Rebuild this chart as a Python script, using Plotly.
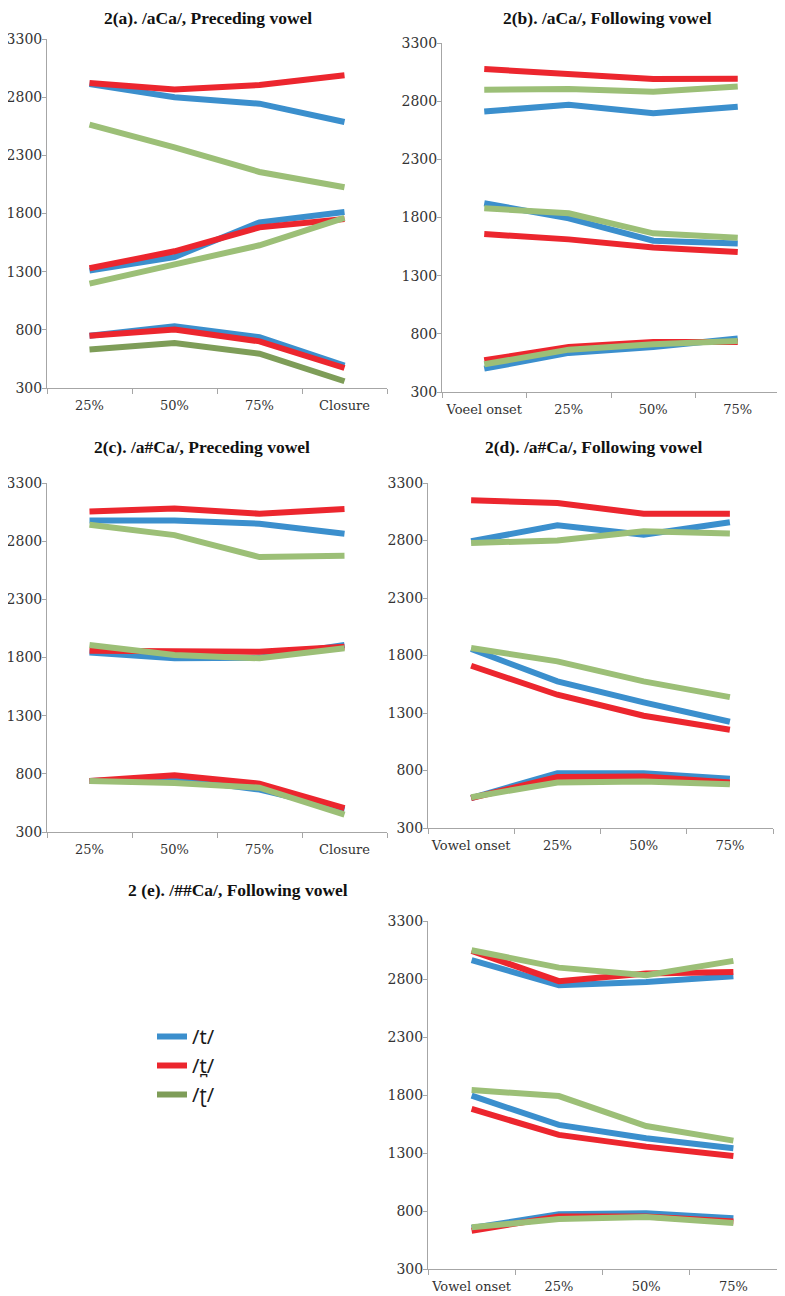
import plotly.graph_objects as go

W, H = 785, 1296
OFF = 8  # page body margin added by the browser

# ---------------- data ----------------
CAT_PRE = ["25%", "50%", "75%", "Closure"]
CAT_B = ["Voeel onset", "25%", "50%", "75%"]
CAT_FOL = ["Vowel onset", "25%", "50%", "75%"]

CONSONANTS = ["/t/", "/t\u032a/", "/\u0288/"]

# each list: [F1, F2, F3] per consonant
A_T = [[750, 830, 736, 492], [1309, 1426, 1724, 1813], [2913, 2799, 2744, 2587]]
A_TD = [[750, 802, 701, 472], [1329, 1475, 1681, 1753], [2922, 2865, 2905, 2988]]
A_TR = [[630, 687, 595, 358], [1197, 1360, 1527, 1762], [2564, 2369, 2157, 2025]]

B_T = [[501, 636, 687, 759], [1922, 1793, 1600, 1577], [2711, 2769, 2697, 2752]]
B_TD = [[573, 687, 730, 730], [1658, 1612, 1543, 1503], [3076, 3033, 2990, 2993]]
B_TR = [[538, 664, 710, 739], [1879, 1836, 1664, 1626], [2898, 2904, 2881, 2927]]

C_T = [[739, 759, 664, 492], [1842, 1793, 1799, 1908], [2978, 2978, 2950, 2864]]
C_TD = [[739, 788, 716, 506], [1859, 1850, 1850, 1893], [3056, 3081, 3036, 3076]]
C_TR = [[739, 721, 681, 449], [1908, 1822, 1793, 1879], [2941, 2852, 2663, 2674]]

D_T = [[560, 777, 777, 728], [1856, 1575, 1392, 1224], [2793, 2932, 2851, 2958]]
D_TD = [[560, 743, 748, 696], [1711, 1459, 1276, 1154], [3149, 3126, 3033, 3033]]
D_TR = [[568, 696, 705, 681], [1865, 1749, 1575, 1438], [2778, 2801, 2880, 2860]]

E_T = [[653, 773, 781, 738], [1794, 1542, 1427, 1341], [2962, 2746, 2775, 2824]]
E_TD = [[630, 753, 753, 710], [1680, 1456, 1355, 1275], [3042, 2781, 2847, 2861]]
E_TR = [[659, 730, 748, 696], [1843, 1791, 1533, 1407], [3048, 2898, 2833, 2956]]

TITLES = ["2(a). /aCa/, Preceding vowel", "2(b). /aCa/, Following vowel",
          "2(c). /a#Ca/, Preceding vowel", "2(d). /a#Ca/, Following vowel",
          "2 (e). /##Ca/, Following vowel"]

# ---------------- style ----------------
BLUE = "#3B8FCD"
RED = "#EC262E"
GREEN = "#9CBF77"
DKGREEN = "#7E9D58"
COLORS = [BLUE, RED, GREEN]
LW = 6

# panel boxes in pixels: (x0, x1, ytop, ybottom)
BOXES = [(47, 387, 39, 388), (442, 780, 43, 392), (47, 387, 483, 832),
         (428, 773, 483, 828), (428, 777, 921, 1269)]
TITLE_POS = [(208, 18), (607, 18), (202, 447), (593, 447), (238, 890)]


def px(x):
    return (x - OFF) / W


def py(y):
    return 1 - (y - OFF) / H


panels = [
    (CAT_PRE, [A_T, A_TD, A_TR]),
    (CAT_B, [B_T, B_TD, B_TR]),
    (CAT_PRE, [C_T, C_TD, C_TR]),
    (CAT_FOL, [D_T, D_TD, D_TR]),
    (CAT_FOL, [E_T, E_TD, E_TR]),
]

fig = go.Figure()
layout = {}
for i, ((cats, series), box) in enumerate(zip(panels, BOXES)):
    n = i + 1
    xa = "x" if n == 1 else f"x{n}"
    ya = "y" if n == 1 else f"y{n}"
    for ci, cons in enumerate(series):
        for fi, vals in enumerate(cons):
            col = COLORS[ci]
            if i == 0 and ci == 2 and fi == 0:
                col = DKGREEN
            fig.add_trace(go.Scatter(
                x=cats, y=vals, mode="lines", xaxis=xa, yaxis=ya,
                line=dict(color=col, width=LW),
                name=CONSONANTS[ci], legendgroup=CONSONANTS[ci],
                showlegend=(i == 0 and fi == 0), hoverinfo="skip"))
    x0, x1, yt, yb = box
    axis_common = dict(showline=True, linecolor="#A6A6A6", linewidth=1,
                       showgrid=False, zeroline=False, ticks="outside",
                       tickcolor="#A6A6A6", automargin=False)
    layout["xaxis" if n == 1 else f"xaxis{n}"] = dict(
        domain=[px(x0), px(x1)], anchor=ya, type="category",
        categoryorder="array", categoryarray=cats, range=[-0.5, 3.5],
        tickson="boundaries", ticklen=5, tickangle=0, ticklabelstandoff=5,
        tickfont=dict(family="DejaVu Serif", size=13, color="#333333"),
        **axis_common)
    layout["yaxis" if n == 1 else f"yaxis{n}"] = dict(
        domain=[py(yb), py(yt)], anchor=xa, range=[300, 3300],
        tickvals=[300, 800, 1300, 1800, 2300, 2800, 3300], ticklen=4,
        ticklabelstandoff=-3,
        tickfont=dict(family="DejaVu Serif", size=14, color="#333333"),
        **axis_common)

annotations = []
for t, (cx, cy) in zip(TITLES, TITLE_POS):
    annotations.append(dict(text="<b>" + t + "</b>", x=px(cx), y=py(cy),
                            xref="paper", yref="paper",
                            xanchor="center", yanchor="middle", showarrow=False,
                            font=dict(family="Liberation Serif", size=17.5, color="#111111")))

fig.update_layout(
    width=W, height=H, margin=dict(l=0, r=0, t=0, b=0, autoexpand=False),
    paper_bgcolor="white", plot_bgcolor="white",
    annotations=annotations,
    showlegend=True,
    legend=dict(x=px(152), y=py(1017), xanchor="left", yanchor="top",
                font=dict(family="Noto Sans", size=20, color="#1a1a1a"),
                bgcolor="rgba(0,0,0,0)", itemwidth=30, tracegroupgap=0),
    **layout,
)

fig.write_html("out.html")
